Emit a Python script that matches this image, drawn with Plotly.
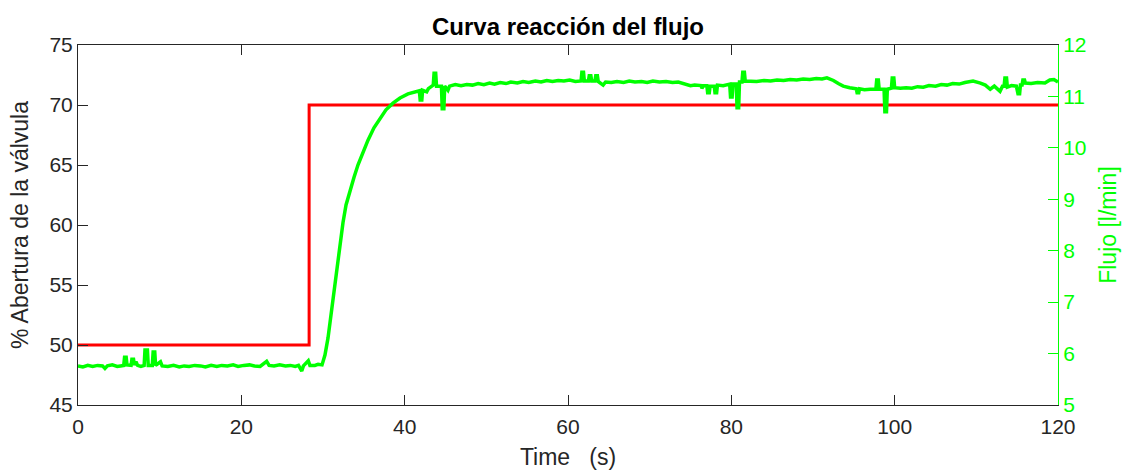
import plotly.graph_objects as go

# Valve opening command (%), stepped
valve_t = [0, 28.3, 120]
valve_pct = [50, 70, 70]

# Measured flow (l/min)
flow_t = [
    0, 0.6, 1.2, 1.8, 2.4, 3.0, 3.3, 3.6, 4.2, 4.8, 5.2,
    5.6, 5.7, 5.9, 6.0, 6.5, 6.6, 6.8, 6.9, 7.1, 7.3, 7.7,
    8.1, 8.2, 8.5, 8.6, 9.1, 9.2, 9.4, 9.5, 10.1, 10.3,
    11, 11.7, 12.4, 13, 13.6, 14.3, 15, 15.6, 16.3, 17, 17.6, 18.3, 19, 19.6,
    20.3, 21, 21.6, 22.3, 23.1, 23.4, 24, 24.7, 25.4, 26, 26.6, 27, 27.4, 27.6,
    28.2, 28.4, 29, 29.4, 29.88,
    30.24, 30.61, 30.98, 31.35, 31.71, 32.08, 32.45, 32.82, 33.31, 33.80,
    34.29, 34.90, 35.51, 36.24, 36.98, 37.71, 38.57, 39.43, 40.41, 41.51,
    41.8, 41.9, 42.1, 42.2, 42.7, 42.9,
    43.5, 43.6, 43.8, 43.9, 44.5, 44.6, 44.8, 44.9, 45.3, 45.5,
    46.2, 46.9, 47.6, 48.3, 49, 49.7, 50.4, 51, 51.7, 52.4, 53, 53.8, 54.5,
    55.2, 56, 56.7, 57.4, 58.1, 58.8, 59.5, 60.2, 60.9, 61.5,
    61.6, 61.7, 61.9, 62.0, 62.5, 62.6, 62.8, 62.9, 63.3, 63.4, 63.6, 63.7,
    64.3, 64.6, 65.3, 66, 66.8, 67.5, 68.2, 69, 69.7, 70.4, 71.2, 72, 72.8,
    73.5, 74.5, 75.0, 75.5,
    76.3, 76.4, 76.6, 77.0, 77.1, 77.3, 77.4, 77.9, 78.0, 78.2, 78.3, 79.0, 79.5,
    79.8, 79.9, 80.1, 80.2, 80.6, 80.7, 80.9, 81.0, 81.3, 81.4, 81.6, 81.7,
    82.3, 83.1, 84, 84.8, 85.6, 86.4, 87.2, 88, 88.8, 89.6, 90.4, 91.1, 91.7,
    92.5, 93.1, 93.7, 94.5, 95.3, 95.4, 95.6, 95.7, 96.3, 97,
    97.7, 97.8, 98.0, 98.1, 98.7, 98.8, 99.0, 99.1, 99.6, 99.7, 99.9, 100.0,
    100.7, 101.4, 102.1, 102.8, 103.5, 104.2, 105, 105.7, 106.4, 107.1, 107.9,
    108.6, 109.6, 110.5, 111.1, 111.7, 112.2, 112.9, 113.2,
    113.4, 113.5, 113.7, 113.8, 114.3, 114.9, 115.1, 115.3, 115.4,
    115.6, 115.7, 115.9, 116.0, 116.7, 117.5, 118.4, 119.0, 119.5, 120,
]
flow_lpm = [
    5.76, 5.74, 5.77, 5.75, 5.77, 5.76, 5.71, 5.76, 5.78, 5.75, 5.76,
    5.77, 5.93, 5.93, 5.78, 5.77, 5.89, 5.89, 5.78, 5.84, 5.77, 5.75,
    5.77, 6.07, 6.07, 5.77, 5.77, 6.03, 6.03, 5.77, 5.84, 5.76,
    5.75, 5.77, 5.74, 5.76, 5.75, 5.77, 5.76, 5.74, 5.77, 5.75, 5.77, 5.76, 5.78, 5.75,
    5.77, 5.78, 5.76, 5.75, 5.85, 5.77, 5.76, 5.78, 5.76, 5.77, 5.75, 5.77, 5.66, 5.76,
    5.86, 5.77, 5.77, 5.79, 5.78,
    5.97, 6.30, 6.75, 7.27, 7.70, 8.14, 8.55, 8.89, 9.18, 9.43,
    9.67, 9.92, 10.15, 10.39, 10.58, 10.74, 10.87, 10.97, 11.05, 11.11,
    11.11, 10.93, 10.93, 11.12, 11.09, 11.15,
    11.22, 11.45, 11.45, 11.20, 11.20, 10.76, 10.76, 11.20, 11.12, 11.20,
    11.23, 11.21, 11.23, 11.22, 11.25, 11.23, 11.26, 11.24, 11.27, 11.25, 11.28, 11.26, 11.29,
    11.27, 11.30, 11.28, 11.31, 11.29, 11.31, 11.30, 11.32, 11.29, 11.30,
    11.30, 11.47, 11.47, 11.30, 11.30, 11.40, 11.40, 11.30, 11.30, 11.40, 11.40, 11.29,
    11.22, 11.28, 11.27, 11.29, 11.27, 11.30, 11.28, 11.29, 11.27, 11.30, 11.28, 11.29, 11.27,
    11.28, 11.23, 11.21, 11.22,
    11.21, 11.16, 11.21, 11.21, 11.07, 11.07, 11.20, 11.20, 11.07, 11.07, 11.22, 11.21, 11.24,
    11.24, 10.99, 10.99, 11.24, 11.24, 10.78, 10.78, 11.28, 11.28, 11.47, 11.47, 11.30,
    11.30, 11.29, 11.31, 11.30, 11.32, 11.31, 11.33, 11.32, 11.34, 11.33, 11.35, 11.34, 11.36,
    11.31, 11.25, 11.20, 11.17, 11.15, 11.07, 11.07, 11.15, 11.13, 11.14,
    11.14, 11.32, 11.32, 11.14, 11.14, 10.70, 10.70, 11.14, 11.16, 11.36, 11.36, 11.17,
    11.16, 11.17, 11.16, 11.19, 11.18, 11.21, 11.20, 11.23, 11.22, 11.25, 11.24,
    11.27, 11.30, 11.26, 11.22, 11.14, 11.20, 11.10, 11.20,
    11.20, 11.36, 11.36, 11.18, 11.21, 11.20, 11.05, 11.05, 11.22,
    11.22, 11.32, 11.32, 11.26, 11.25, 11.27, 11.26, 11.32, 11.33, 11.28,
]

x_ticks = [0, 20, 40, 60, 80, 100, 120]
left_ticks = [45, 50, 55, 60, 65, 70, 75]
right_ticks = [5, 6, 7, 8, 9, 10, 11, 12]

AXIS = "#262626"
GREEN = "#00ff00"
RED = "#ff0000"
FONT = "Liberation Sans"

fig = go.Figure()
fig.add_trace(go.Scatter(
    x=valve_t, y=valve_pct, mode="lines", line_shape="hv",
    line=dict(color=RED, width=3), yaxis="y", showlegend=False,
))
fig.add_trace(go.Scatter(
    x=flow_t, y=flow_lpm, mode="lines",
    line=dict(color=GREEN, width=3.5), yaxis="y2", showlegend=False,
))

fig.update_layout(
    width=1126, height=473,
    margin=dict(l=78, r=68, t=45, b=68),
    paper_bgcolor="white", plot_bgcolor="white",
    font=dict(family=FONT, size=21, color="black"),
    title=dict(
        text="<b>Curva reacción del flujo</b>",
        font=dict(family=FONT, size=24, color="black"),
        x=0.5, xanchor="center", xref="paper",
        y=1 - 27 / 473, yanchor="middle", yref="container",
    ),
    xaxis=dict(
        range=[0, 120], tickvals=x_ticks, showgrid=False, zeroline=False,
        showline=True, linecolor=AXIS, linewidth=1, mirror="ticks",
        ticks="inside", ticklen=10, tickcolor=AXIS, automargin=False,
        tickfont=dict(size=21, color=AXIS), ticklabelstandoff=3,
        title=dict(text="Time   (s)", font=dict(size=23, color=AXIS), standoff=11),
    ),
    yaxis=dict(
        range=[45, 75], tickvals=left_ticks, showgrid=False, zeroline=False,
        showline=True, linecolor=AXIS, linewidth=1, automargin=False,
        ticks="inside", ticklen=10, tickcolor=AXIS,
        tickfont=dict(size=21, color=AXIS),
        title=dict(text="% Abertura de la válvula", font=dict(size=23, color=AXIS), standoff=14),
    ),
    yaxis2=dict(
        range=[5, 12], tickvals=right_ticks, overlaying="y", side="right",
        showgrid=False, zeroline=False, automargin=False,
        showline=True, linecolor=GREEN, linewidth=1,
        ticks="inside", ticklen=10, tickcolor=GREEN,
        tickfont=dict(size=21, color=GREEN),
        title=dict(text="Flujo [l/min]", font=dict(size=23, color=GREEN), standoff=14),
    ),
)

fig.write_html("out.html")
